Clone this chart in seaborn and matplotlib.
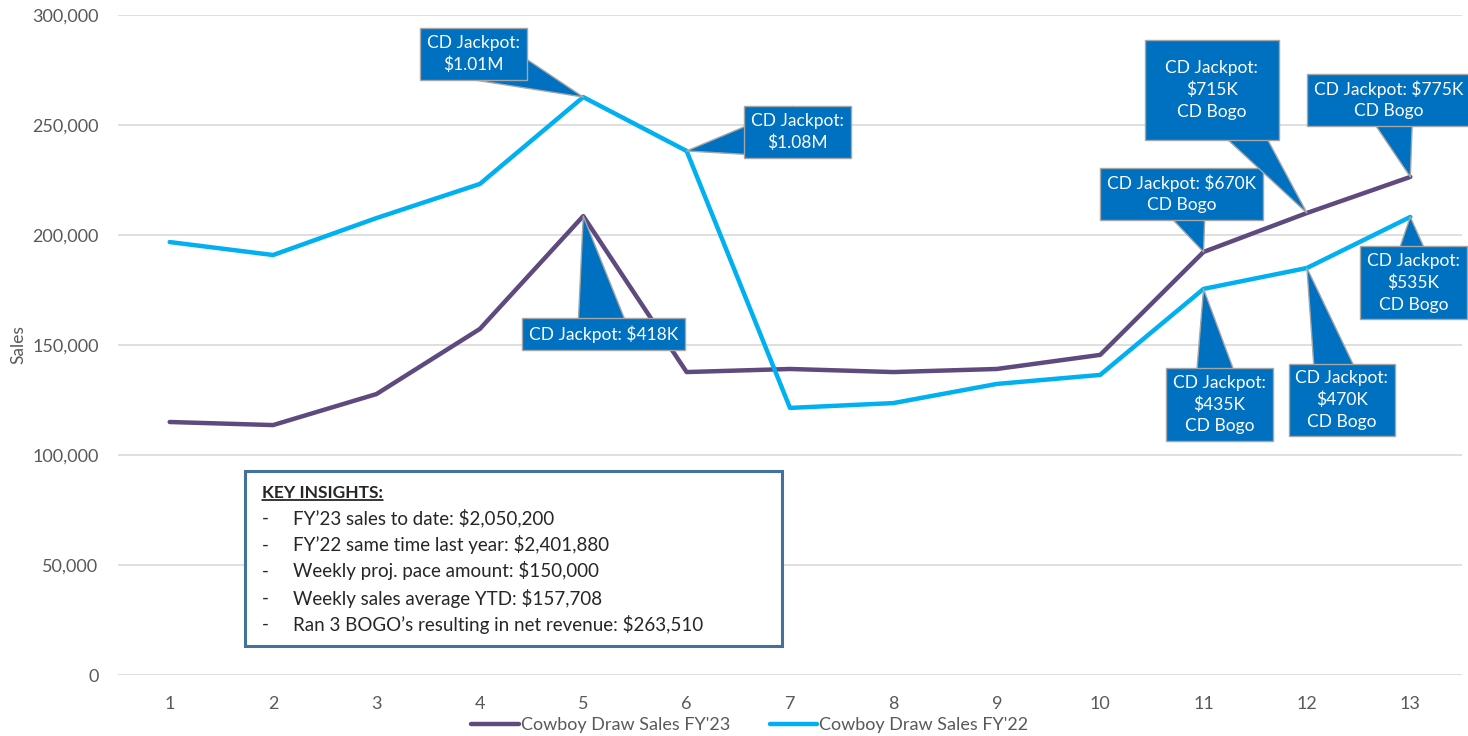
import numpy as np
import pandas as pd
import matplotlib
matplotlib.use("Agg")
import matplotlib.pyplot as plt
import seaborn as sns
from matplotlib.patches import Rectangle
from matplotlib.lines import Line2D
from matplotlib.ticker import FuncFormatter

# weekly sales
weeks = list(range(1, 14))
sales_fy23 = [115000, 113600, 127700, 157300, 208600, 137700, 139100,
              137700, 139100, 145500, 192300, 210000, 226400]
sales_fy22 = [196800, 190900, 207700, 223200, 262700, 238200, 121400,
              123600, 132300, 136400, 175500, 185000, 208200]
series_names = ["Cowboy Draw Sales FY'23", "Cowboy Draw Sales FY'22"]
series_colors = ["#5E4A7E", "#00B0F0"]

# callouts: which series / week they point at, and their text
callout_series = [1, 1, 0, 0, 0, 0, 1, 1, 1]
callout_weeks = [5, 6, 5, 11, 12, 13, 13, 11, 12]
callout_texts = [
    "CD Jackpot:\n$1.01M",
    "CD Jackpot:\n$1.08M",
    "CD Jackpot: $418K",
    "CD Jackpot: $670K\nCD Bogo",
    "CD Jackpot:\n$715K\nCD Bogo",
    "CD Jackpot: $775K\nCD Bogo",
    "CD Jackpot:\n$535K\nCD Bogo",
    "CD Jackpot:\n$435K\nCD Bogo",
    "CD Jackpot:\n$470K\nCD Bogo",
]
# box centre offset from the point (pixels) and box padding
callout_offsets = [(-110, 43), (111, 19), (20, -118), (-22, 58), (-95, 123),
                   (-22, 77), (3, -66), (16, -116), (35, -132)]
callout_pads = [0.4, 0.4, 0.4, 0.4, 1.2, 0.4, 0.4, 0.4, 0.4]

insight_title = "KEY INSIGHTS:"
insight_lines = [
    "FY\u201923 sales to date: $2,050,200",
    "FY\u201922 same time last year: $2,401,880",
    "Weekly proj. pace amount: $150,000",
    "Weekly sales average YTD: $157,708",
    "Ran 3 BOGO\u2019s resulting in net revenue: $263,510",
]

df = pd.DataFrame({
    "Week": weeks * 2,
    "Sales": sales_fy23 + sales_fy22,
    "Series": [series_names[0]] * len(weeks) + [series_names[1]] * len(weeks),
})

sns.set_theme(style="white")
plt.rcParams["font.family"] = ["Lato", "DejaVu Sans"]

W, H = 1468, 736
fig, ax = plt.subplots(figsize=(W / 100, H / 100), dpi=100)
fig.subplots_adjust(left=118 / W, right=1462 / W, top=1 - 15 / H, bottom=1 - 675 / H)

sns.lineplot(data=df, x="Week", y="Sales", hue="Series",
             palette=dict(zip(series_names, series_colors)),
             lw=3.2, errorbar=None, ax=ax, zorder=3)

ax.set_xlim(0.5, 13.5)
ax.set_ylim(0, 300000)
ax.set_xticks(weeks)
ax.set_yticks(range(0, 300001, 50000))
ax.yaxis.set_major_formatter(FuncFormatter(lambda v, p: f"{int(v):,}"))
ax.grid(axis="y", color="#D9D9D9", lw=1.2)
ax.set_axisbelow(True)
for s in ax.spines.values():
    s.set_visible(False)
ax.tick_params(axis="both", length=0, labelsize=13, labelcolor="#595959")
ax.tick_params(axis="x", pad=15)
ax.tick_params(axis="y", pad=14)
ax.set_xlabel("")
ax.set_ylabel("Sales", fontsize=12.5, color="#595959")
ax.yaxis.set_label_coords(-0.068, 0.5)

sns.move_legend(ax, "center", bbox_to_anchor=(0.470, -0.076), ncol=2,
                frameon=False, title=None, fontsize=13, handlelength=2.65,
                handletextpad=0.1, columnspacing=2.2)
for t in ax.get_legend().get_texts():
    t.set_color("#595959")

# callouts
box_blue = "#0070C0"
values = [sales_fy23, sales_fy22]
for s, w, txt, off, pad in zip(callout_series, callout_weeks, callout_texts,
                               callout_offsets, callout_pads):
    ax.annotate(txt, xy=(w, values[s][w - 1]), xycoords="data",
                xytext=off, textcoords="offset pixels",
                ha="center", va="center", color="white", fontsize=12.5,
                linespacing=1.4, zorder=6, annotation_clip=False,
                bbox=dict(boxstyle=f"square,pad={pad}", fc=box_blue,
                          ec="#A6A6A6", lw=1),
                arrowprops=dict(arrowstyle="wedge,tail_width=3.0,shrink_factor=0.5",
                                mutation_scale=12.5, fc=box_blue, ec="#A6A6A6",
                                lw=1, patchA=None, shrinkA=0, shrinkB=0,
                                connectionstyle="arc3"))

# key insights box
fig.patches.append(Rectangle((245 / W, 1 - 646 / H), 537 / W, 175 / H,
                             transform=fig.transFigure, fc="white",
                             ec="#41719C", lw=2.2, zorder=10))
ys = [493, 518, 545, 571, 598, 624]
title = fig.text(262 / W, 1 - ys[0] / H, insight_title, fontsize=12.5,
                 fontweight="bold", va="center", zorder=11)
for y, line in zip(ys[1:], insight_lines):
    fig.text(262 / W, 1 - y / H, "-", fontsize=13.5, va="center", zorder=11)
    fig.text(293 / W, 1 - y / H, line, fontsize=13.5, va="center", zorder=11)

renderer = fig.canvas.get_renderer()
bb = title.get_window_extent(renderer)
fig.lines.append(Line2D([bb.x0 / W, bb.x1 / W], [(bb.y0 + 1) / H] * 2,
                        transform=fig.transFigure, color="black", lw=1.1,
                        zorder=11))

fig.savefig("out.png", dpi=100)
